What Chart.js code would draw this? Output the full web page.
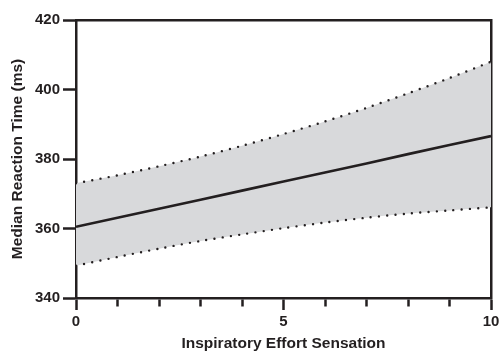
<!DOCTYPE html>
<html>
<head>
<meta charset="utf-8">
<script src="https://cdn.jsdelivr.net/npm/chart.js@4"></script>
<style>
  html, body { margin: 0; padding: 0; background: #ffffff; }
  #wrap { width: 499px; height: 359px; position: relative; }
</style>
</head>
<body>
<div id="wrap"><canvas id="c" width="499" height="359"></canvas></div>
<script>
// ---- data ----
const xValues     = [0, 1, 2, 3, 4, 5, 6, 7, 8, 9, 10];
const fitValues   = [360.5, 363.1, 365.7, 368.3, 370.9, 373.5, 376.1, 378.7, 381.4, 384.0, 386.6];
const upperValues = [373.0, 375.3, 377.9, 380.7, 383.8, 387.2, 390.8, 394.7, 398.9, 403.3, 408.0];
const lowerValues = [349.3, 351.8, 354.2, 356.4, 358.3, 360.1, 361.7, 363.1, 364.3, 365.2, 366.1];
const xLabelTicks = [0, 5, 10];
const yTickValues = [340, 360, 380, 400, 420];
const xTitle = 'Inspiratory Effort Sensation';
const yTitle = 'Median Reaction Time (ms)';

const toPoints = (ys) => xValues.map((x, i) => ({ x: x, y: ys[i] }));

const INK = '#231f20';
const TICK_FONT = { family: 'Liberation Sans, Arial, sans-serif', weight: 'bold', size: 15 };
const TITLE_FONT = { family: 'Liberation Sans, Arial, sans-serif', weight: 'bold', size: 15.5 };

new Chart(document.getElementById('c'), {
  type: 'line',
  data: {
    datasets: [
      {
        label: 'fit',
        data: toPoints(fitValues),
        borderColor: INK,
        borderWidth: 2.6,
        pointRadius: 0,
        fill: false,
        tension: 0
      },
      {
        label: 'upper',
        data: toPoints(upperValues),
        borderColor: INK,
        borderWidth: 2.4,
        borderDash: [0, 8.3],
        borderCapStyle: 'round',
        pointRadius: 0,
        fill: '+1',
        backgroundColor: '#d8d9db',
        tension: 0.3
      },
      {
        label: 'lower',
        data: toPoints(lowerValues),
        borderColor: INK,
        borderWidth: 2.4,
        borderDash: [0, 8.3],
        borderCapStyle: 'round',
        pointRadius: 0,
        fill: false,
        tension: 0.3
      }
    ]
  },
  options: {
    responsive: false,
    animation: false,
    devicePixelRatio: 1,
    layout: { padding: { left: 6, top: 20, right: 0, bottom: 0 } },
    plugins: {
      legend: { display: false },
      tooltip: { enabled: false },
      filler: { drawTime: 'beforeDatasetsDraw' }
    },
    scales: {
      x: {
        type: 'linear',
        position: 'bottom',
        min: 0,
        max: 10,
        afterFit: (scale) => { scale.paddingRight = 8; scale.height = 61; },
        ticks: {
          stepSize: 1,
          autoSkip: false,
          maxRotation: 0,
          padding: 3,
          color: INK,
          font: TICK_FONT,
          callback: (v) => (xLabelTicks.includes(v) ? String(v) : '')
        },
        grid: {
          drawOnChartArea: false,
          drawTicks: true,
          tickLength: 12,
          tickWidth: 2.5,
          tickColor: INK,
          tickBorderDash: (ctx) => (ctx.tick && xLabelTicks.includes(ctx.tick.value) ? [] : [7, 100])
        },
        border: { display: true, width: 2.5, color: INK },
        title: {
          display: true,
          text: xTitle,
          color: INK,
          font: TITLE_FONT,
          padding: { top: 4, bottom: 5.5 }
        }
      },
      y: {
        type: 'linear',
        position: 'left',
        min: 340,
        max: 420,
        afterBuildTicks: (scale) => { scale.ticks = yTickValues.map((v) => ({ value: v })); },
        afterFit: (scale) => { scale.width = 70; },
        ticks: {
          padding: 3,
          color: INK,
          font: TICK_FONT
        },
        grid: {
          drawOnChartArea: false,
          tickLength: 13,
          tickWidth: 2.5,
          tickColor: INK
        },
        border: { display: true, width: 2.5, color: INK },
        title: {
          display: true,
          text: yTitle,
          color: INK,
          font: TITLE_FONT,
          padding: { top: 2.7, bottom: 4 }
        }
      },
      xTop: {
        type: 'linear',
        position: 'top',
        min: 0,
        max: 10,
        ticks: { display: false },
        grid: { display: false, drawTicks: false },
        border: { display: true, width: 2.5, color: INK }
      },
      yRight: {
        type: 'linear',
        position: 'right',
        min: 340,
        max: 420,
        ticks: { display: false },
        grid: { display: false, drawTicks: false },
        border: { display: true, width: 2.5, color: INK }
      }
    }
  }
});
</script>
</body>
</html>
